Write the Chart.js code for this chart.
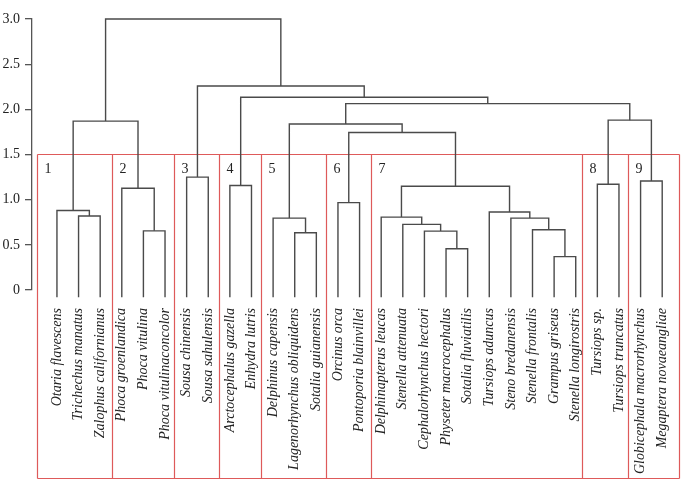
<!DOCTYPE html>
<html lang="en">
<head>
    <meta charset="UTF-8">
    <title>Dendrogram</title>
    <script src="https://cdn.jsdelivr.net/npm/chart.js"></script>
    <style>
        html, body { margin: 0; padding: 0; background: #fff; }
        #wrap { width: 689px; height: 480px; }
    </style>
</head>
<body>
    <div id="wrap"><canvas id="myChart"></canvas></div>
    <script>
        // leaves, left to right
        const leaves = [
            'Otaria flavescens', 'Trichechus manatus', 'Zalophus californianus',
            'Phoca groenlandica', 'Phoca vitulina', 'Phoca vitulinaconcolor',
            'Sousa chinensis', 'Sousa sahulensis',
            'Arctocephalus gazella', 'Enhydra lutris',
            'Delphinus capensis', 'Lagenorhynchus obliquidens', 'Sotalia guianensis',
            'Orcinus orca', 'Pontoporia blainvillei',
            'Delphinapterus leucas', 'Stenella attenuata', 'Cephalorhynchus hectori',
            'Physeter macrocephalus', 'Sotalia fluviatilis', 'Tursiops aduncus',
            'Steno bredanensis', 'Stenella frontalis', 'Grampus griseus', 'Stenella longirostris',
            'Tursiops sp.', 'Tursiops truncatus',
            'Globicephala macrorhynchus', 'Megaptera novaeangliae'
        ];

        // merges like hclust: negative = leaf number (1-based), positive = earlier merge row
        const mergeLeft  = [-2, -1, -5, -4, 2, -7, -9, -12, -11, -14, -19, -18, -17, -16,
                            -24, -23, -22, -21, 14, 10, 9, -26, -28, 22, 21, 7, 6, 5];
        const mergeRight = [-3, 1, -6, 3, 4, -8, -10, -13, 8, -15, -20, 11, 12, 13,
                            -25, 15, 16, 17, 18, 19, 20, -27, -29, 23, 24, 25, 26, 27];
        const mergeHeight = [0.82, 0.88, 0.655, 1.126, 1.87, 1.25, 1.156, 0.633, 0.796, 0.967,
                             0.456, 0.652, 0.726, 0.807, 0.37, 0.667, 0.796, 0.863, 1.148, 1.744,
                             1.837, 1.17, 1.207, 1.88, 2.063, 2.133, 2.259, 3.0];
        const leafHang = -0.08;

        // cluster boxes (edges in leaf-index units) and their numbers
        const clusterNames = ['1', '2', '3', '4', '5', '6', '7', '8', '9'];
        const clusterEdges = [-0.94, 2.53, 5.43, 7.48, 9.44, 12.45, 14.55, 24.27, 26.41, 28.79];
        const clusterTop = 1.51;

        const yTicks = [0, 0.5, 1.0, 1.5, 2.0, 2.5, 3.0];

        // positions of merges = midpoint of children
        const mergeX = [];
        function nodeX(id) { return id < 0 ? -id - 1 : mergeX[id - 1]; }
        function nodeH(id) { return id < 0 ? leafHang : mergeHeight[id - 1]; }
        const datasets = [];
        for (let i = 0; i < mergeHeight.length; i++) {
            const a = mergeLeft[i], b = mergeRight[i], h = mergeHeight[i];
            const xa = nodeX(a), xb = nodeX(b);
            mergeX.push((xa + xb) / 2);
            datasets.push({
                data: [{x: xa, y: nodeH(a)}, {x: xa, y: h}, {x: xb, y: h}, {x: xb, y: nodeH(b)}],
                showLine: true,
                borderColor: '#4a4a4a',
                borderWidth: 1.4,
                pointRadius: 0,
                tension: 0,
                clip: false
            });
        }

        const boxPlugin = {
            id: 'boxes',
            beforeDatasetsDraw(chart) {
                const ctx = chart.ctx;
                const xs = chart.scales.x, ys = chart.scales.y;
                const top = Math.round(ys.getPixelForValue(clusterTop)) + 0.5;
                const bottom = chart.height - 1.5;
                const px = clusterEdges.map(e => Math.round(xs.getPixelForValue(e)) + 0.5);
                ctx.save();
                ctx.strokeStyle = '#de5a5a';
                ctx.lineWidth = 1.2;
                ctx.beginPath();
                ctx.moveTo(px[0], top); ctx.lineTo(px[px.length - 1], top);
                ctx.moveTo(px[0], bottom); ctx.lineTo(px[px.length - 1], bottom);
                px.forEach(p => { ctx.moveTo(p, top); ctx.lineTo(p, bottom); });
                ctx.stroke();
                ctx.fillStyle = '#222';
                ctx.font = '14px "Liberation Serif"';
                ctx.textBaseline = 'top';
                clusterNames.forEach((n, i) => ctx.fillText(n, px[i] + 7, top + 8));
                ctx.restore();
            }
        };

        const ctx = document.getElementById('myChart').getContext('2d');
        const myChart = new Chart(ctx, {
            type: 'scatter',
            data: { datasets: datasets },
            plugins: [boxPlugin],
            options: {
                responsive: true,
                maintainAspectRatio: false,
                animation: false,
                layout: { padding: { top: 19, left: 0, right: 0, bottom: 0 } },
                plugins: { legend: { display: false }, tooltip: { enabled: false } },
                scales: {
                    x: {
                        type: 'linear',
                        min: -1.154,
                        max: 28.82,
                        afterBuildTicks: (scale) => { scale.ticks = leaves.map((_, i) => ({ value: i })); },
                        afterFit: (scale) => { scale.height = 190; },
                        grid: { display: false },
                        border: { display: false },
                        ticks: {
                            autoSkip: false,
                            minRotation: 90,
                            maxRotation: 90,
                            padding: 10,
                            color: '#222',
                            font: { family: 'Liberation Serif', size: 14, style: 'italic' },
                            callback: (v) => leaves[v]
                        }
                    },
                    y: {
                        min: 0,
                        max: 3,
                        afterBuildTicks: (scale) => { scale.ticks = yTicks.map(v => ({ value: v })); },
                        afterFit: (scale) => { scale.width = 32; },
                        grid: { drawOnChartArea: false, tickLength: 7, color: '#555', lineWidth: 1.3 },
                        border: { display: true, color: '#555', width: 1.3 },
                        ticks: {
                            padding: 5,
                            color: '#222',
                            font: { family: 'Liberation Serif', size: 14 },
                            callback: (v) => v === 0 ? '0' : v.toFixed(1)
                        }
                    }
                }
            }
        });
    </script>
</body>
</html>
